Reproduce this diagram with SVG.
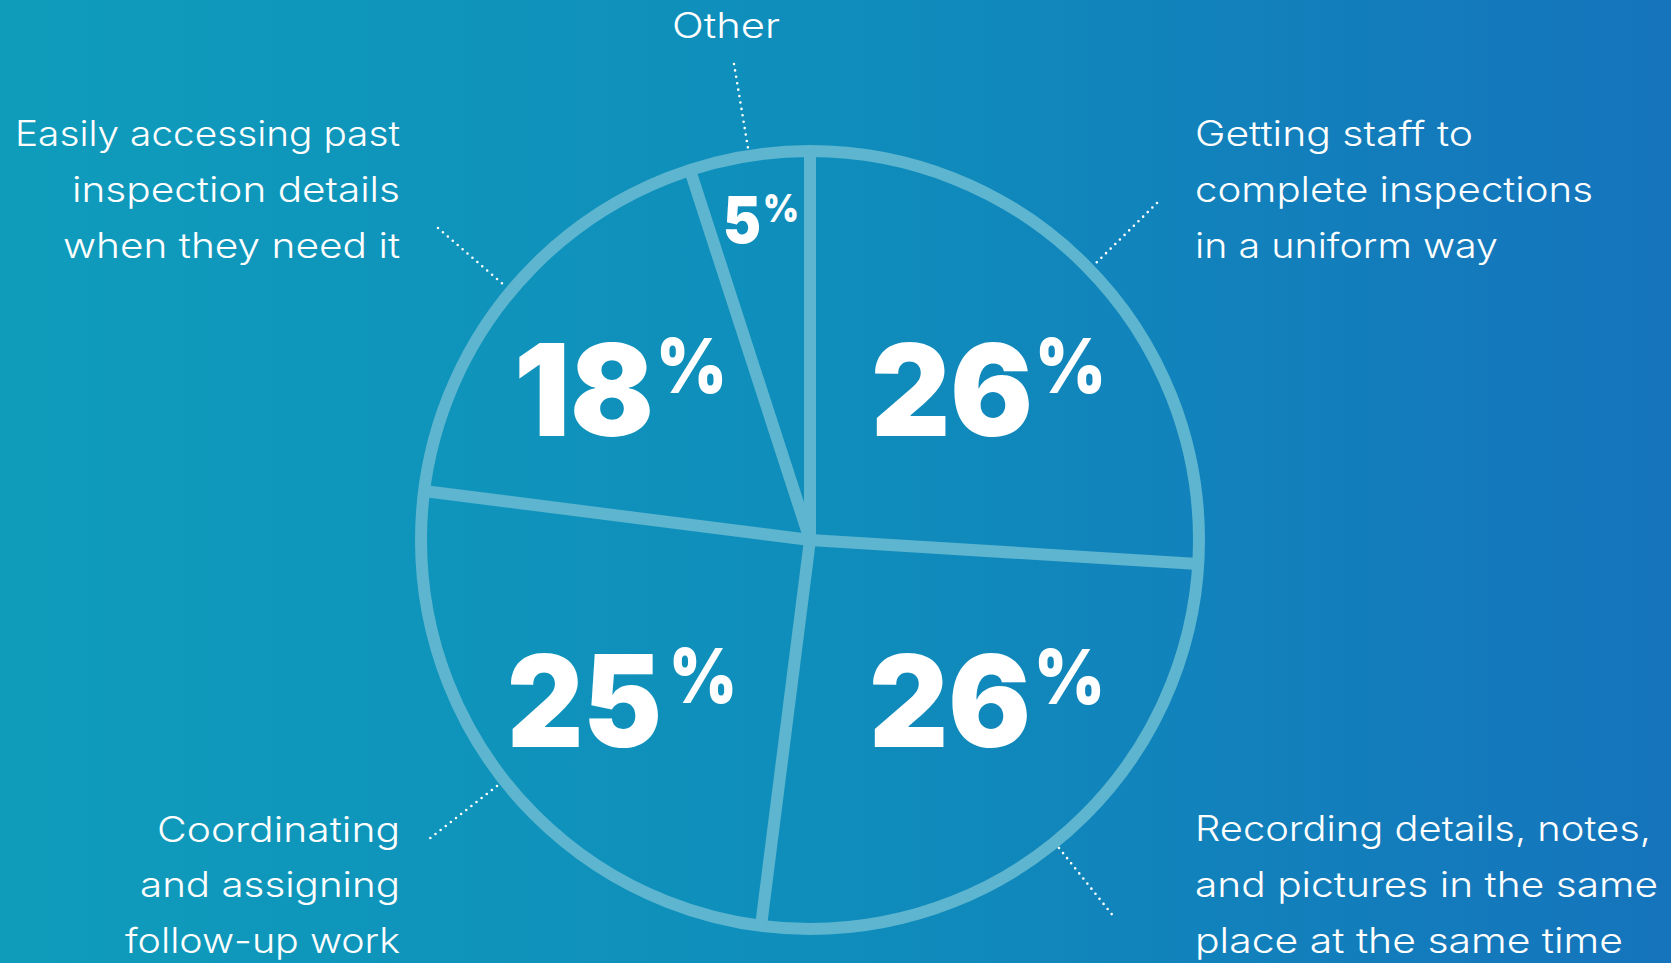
<svg xmlns="http://www.w3.org/2000/svg" width="1671" height="963" viewBox="0 0 1671 963">
  <defs>
    <linearGradient id="bg" x1="0" y1="0" x2="1" y2="0">
      <stop offset="0" stop-color="#0f9cbb"/>
      <stop offset="0.5" stop-color="#0f8dbb"/>
      <stop offset="1" stop-color="#1574bc"/>
    </linearGradient>
  </defs>
  <style>
    .ring { fill: none; stroke: #5db5cf; stroke-width: 12; }
    .spoke { stroke: #5db5cf; stroke-width: 12; stroke-linecap: butt; }
    .lead { stroke: #ffffff; stroke-width: 2.6; stroke-dasharray: 0 6.5; stroke-linecap: round; fill: none; }
    .lbl { font-family: Inter, "Open Sans", "Noto Sans", sans-serif; font-weight: 300; font-size: 35px; fill: #ffffff; }
    .num { font-family: Inter, "Open Sans", "Noto Sans", sans-serif; font-weight: 900; fill: #ffffff; }
  </style>
  <rect x="0" y="0" width="1671" height="963" fill="url(#bg)"/>

  <g id="pie">
    <circle class="ring" cx="810" cy="540" r="389"/>
  </g>

  <g id="connectors">
    <line class="spoke" x1="810" y1="540" x2="810" y2="151"/>
    <line class="spoke" x1="810" y1="540" x2="1198" y2="564"/>
    <line class="spoke" x1="810" y1="540" x2="761" y2="926"/>
    <line class="spoke" x1="810" y1="540" x2="424" y2="491"/>
    <line class="spoke" x1="810" y1="540" x2="690" y2="170"/>
    <line class="lead" x1="734" y1="64" x2="748" y2="148"/>
    <line class="lead" x1="438" y1="228" x2="504" y2="285"/>
    <line class="lead" x1="1157" y1="203" x2="1096" y2="263"/>
    <line class="lead" x1="497" y1="786" x2="429" y2="839"/>
    <line class="lead" x1="1059" y1="848" x2="1114" y2="917"/>
  </g>

  <g id="slice-uniform">
    <text class="num" x="871" y="436" font-size="128"><tspan textLength="162" lengthAdjust="spacingAndGlyphs">26</tspan><tspan x="1035" y="393" font-size="76" textLength="71" lengthAdjust="spacingAndGlyphs">%</tspan></text>
  </g>
  <g id="slice-recording">
    <text class="num" x="869" y="747" font-size="128"><tspan textLength="162" lengthAdjust="spacingAndGlyphs">26</tspan><tspan x="1034" y="704" font-size="76" textLength="71" lengthAdjust="spacingAndGlyphs">%</tspan></text>
  </g>
  <g id="slice-coordinating">
    <text class="num" x="507" y="747" font-size="128"><tspan textLength="155" lengthAdjust="spacingAndGlyphs">25</tspan><tspan x="669" y="703" font-size="76" textLength="68" lengthAdjust="spacingAndGlyphs">%</tspan></text>
  </g>
  <g id="slice-accessing">
    <text class="num" x="514" y="436" font-size="128"><tspan textLength="140" lengthAdjust="spacingAndGlyphs">18</tspan><tspan x="656" y="393" font-size="76" textLength="71" lengthAdjust="spacingAndGlyphs">%</tspan></text>
  </g>
  <g id="slice-other">
    <text class="num" x="723" y="243" font-size="64"><tspan textLength="38" lengthAdjust="spacingAndGlyphs">5</tspan><tspan x="763" y="222" font-size="39" textLength="36" lengthAdjust="spacingAndGlyphs">%</tspan></text>
  </g>

  <g id="label-other">
    <text class="lbl" x="672" y="38" textLength="108" lengthAdjust="spacingAndGlyphs">Other</text>
  </g>
  <g id="label-accessing">
    <text class="lbl" x="15" y="146" textLength="385" lengthAdjust="spacingAndGlyphs">Easily accessing past</text>
    <text class="lbl" x="72" y="202" textLength="328" lengthAdjust="spacingAndGlyphs">inspection details</text>
    <text class="lbl" x="63" y="258" textLength="337" lengthAdjust="spacingAndGlyphs">when they need it</text>
  </g>
  <g id="label-uniform">
    <text class="lbl" x="1195" y="146" textLength="278" lengthAdjust="spacingAndGlyphs">Getting staff to</text>
    <text class="lbl" x="1195" y="202" textLength="398" lengthAdjust="spacingAndGlyphs">complete inspections</text>
    <text class="lbl" x="1195" y="258" textLength="303" lengthAdjust="spacingAndGlyphs">in a uniform way</text>
  </g>
  <g id="label-coordinating">
    <text class="lbl" x="157" y="842" textLength="243" lengthAdjust="spacingAndGlyphs">Coordinating</text>
    <text class="lbl" x="140" y="897" textLength="260" lengthAdjust="spacingAndGlyphs">and assigning</text>
    <text class="lbl" x="125" y="953" textLength="275" lengthAdjust="spacingAndGlyphs">follow-up work</text>
  </g>
  <g id="label-recording">
    <text class="lbl" x="1195" y="841" textLength="456" lengthAdjust="spacingAndGlyphs">Recording details, notes,</text>
    <text class="lbl" x="1195" y="897" textLength="463" lengthAdjust="spacingAndGlyphs">and pictures in the same</text>
    <text class="lbl" x="1195" y="953" textLength="428" lengthAdjust="spacingAndGlyphs">place at the same time</text>
  </g>
</svg>
